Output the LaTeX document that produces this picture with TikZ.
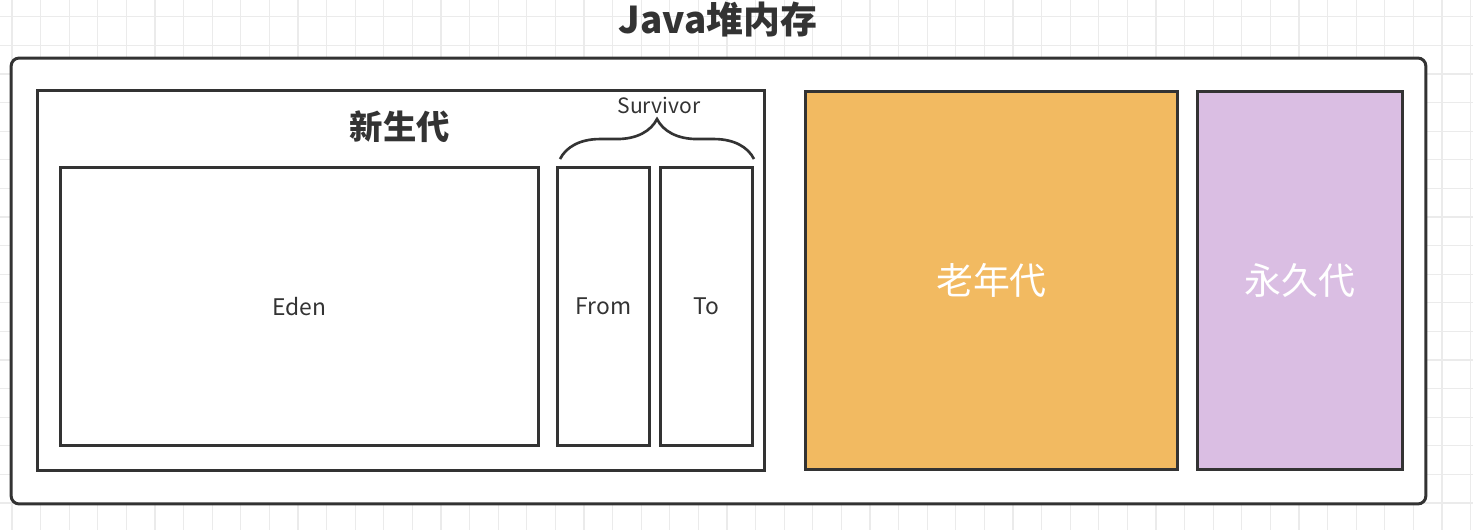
\documentclass[tikz,border=0pt]{standalone}
\usepackage{fontspec}
\setmainfont{Noto Sans CJK SC}
\usetikzlibrary{decorations.pathreplacing}
\definecolor{linegray}{HTML}{333333}
\definecolor{oldorange}{HTML}{F2BA61}
\definecolor{permpurple}{HTML}{DABEE3}
\definecolor{gridgray}{HTML}{EBEBEB}

\begin{document}
\begin{tikzpicture}[x=0.02cm, y=-0.02cm, line width=1.7pt,
    membox/.style={draw=linegray, fill=white, rectangle, inner sep=0pt},
    txt/.style={text=linegray, inner sep=0pt}]
    \useasboundingbox (0,0) rectangle (1473,530);

    % Background grid
    \foreach \i in {0,...,51}
        \draw[gridgray, line width=0.6pt] (12+\i*28.6,0) -- (12+\i*28.6,530);
    \foreach \j in {0,...,18}
        \draw[gridgray, line width=0.6pt] (0,16.8+\j*28.6) -- (1473,16.8+\j*28.6);

    % Heap
    \node[membox, rounded corners=0.16cm, minimum width=28.3cm, minimum height=8.92cm] (heap) at (718.5,281) {};
    \node[txt, font=\fontsize{21}{24}\selectfont\bfseries] (heaptitle) at (718,20) {Java堆内存};

    % Young generation
    \node[membox, minimum width=14.54cm, minimum height=7.6cm] (young) at (401,280.5) {};
    \node[txt, font=\fontsize{19}{22}\selectfont\bfseries] (youngtitle) at (400,127) {新生代};
    \node[membox, minimum width=9.56cm, minimum height=5.56cm] (eden) at (299.5,306.5) {};
    \node[txt, font=\fontsize{13}{15}\selectfont] at (eden) {Eden};
    \node[membox, minimum width=1.84cm, minimum height=5.56cm] (from) at (603.5,306.5) {};
    \node[txt, font=\fontsize{13}{15}\selectfont] at (from) {From};
    \node[membox, minimum width=1.84cm, minimum height=5.56cm] (to) at (706.5,306.5) {};
    \node[txt, font=\fontsize{13}{15}\selectfont] at (to) {To};

    % Survivor brace
    \draw[linegray, line width=1.5pt, decorate, decoration={brace, amplitude=0.8cm}]
        ([xshift=0.08cm, yshift=0.14cm]from.north west) -- ([yshift=0.14cm]to.north east);
    \node[txt, font=\fontsize{12}{14}\selectfont] (survivor) at (659,105) {Survivor};

    % Old and permanent generations
    \node[membox, fill=oldorange, minimum width=7.44cm, minimum height=7.56cm] (old) at (991.5,280.5) {};
    \node[txt, text=white, font=\fontsize{21}{24}\selectfont] at (old) {老年代};
    \node[membox, fill=permpurple, minimum width=4.1cm, minimum height=7.56cm] (perm) at (1300,280.5) {};
    \node[txt, text=white, font=\fontsize{21}{24}\selectfont] at (perm) {永久代};
\end{tikzpicture}
\end{document}
